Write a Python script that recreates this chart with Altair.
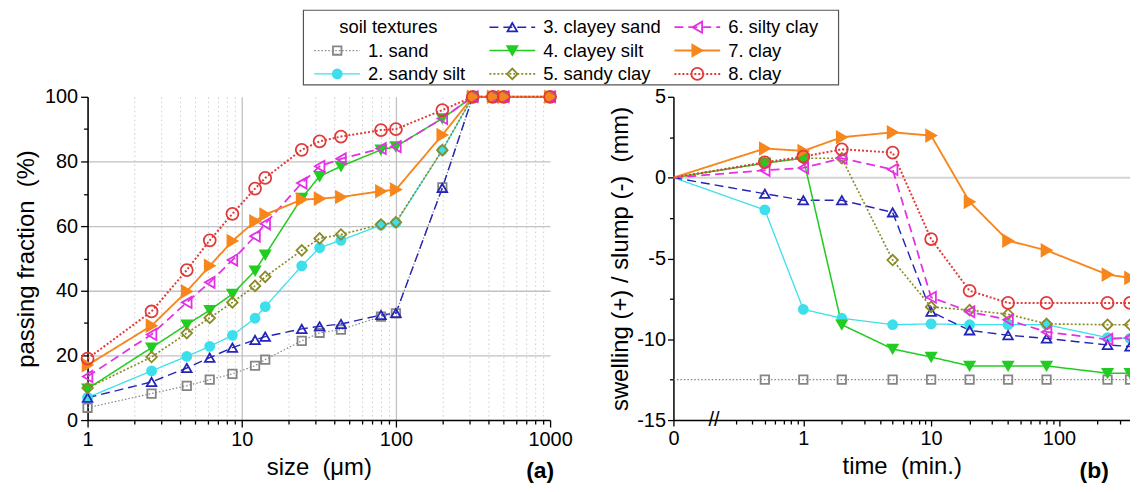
import altair as alt
import numpy as np
import pandas as pd

# ---------------- data ----------------
names = ["1. sand", "2. sandy silt", "3. clayey sand", "4. clayey silt",
         "5. sandy clay", "6. silty clay", "7. clay", "8. clay"]
legend_title = "soil textures"
panel_tags = ["(a)", "(b)"]

# (a) grain-size distribution
sizes = [1, 2.6, 4.4, 6.2, 8.7, 12.2, 14.2, 24.5, 32, 44, 80, 100, 200, 315, 425, 500, 1000]
pass_sand = [3.8, 8.2, 10.6, 12.5, 14.3, 16.8, 18.7, 24.5, 27.0, 28.0, 32.0, 33.0, 72.0, 100, 100, 100, 100]
pass_sandy_silt = [7.0, 15.2, 19.7, 22.8, 26.2, 31.5, 35.1, 47.7, 53.3, 55.6, 60.3, 61.0, 83.5, 100, 100, 100, 100]
pass_clayey_sand = [6.9, 11.8, 16.1, 19.3, 22.4, 24.8, 25.8, 28.2, 29.0, 29.7, 32.5, 33.1, 71.8, 100, 100, 100, 100]
pass_clayey_silt = [9.7, 22.4, 29.5, 34.0, 39.0, 46.2, 51.1, 68.7, 75.4, 78.5, 83.6, 84.6, 93.3, 100, 100, 100, 100]
pass_sandy_clay = [9.9, 19.5, 26.9, 31.6, 36.4, 41.5, 44.3, 52.5, 56.2, 57.4, 60.5, 61.2, 83.5, 100, 100, 100, 100]
pass_silty_clay = [13.5, 26.5, 36.4, 42.6, 49.5, 56.9, 60.7, 73.3, 78.5, 80.8, 84.0, 84.6, 93.3, 100, 100, 100, 100]
pass_clay7 = [17.0, 29.2, 39.8, 47.7, 55.4, 61.5, 63.6, 68.2, 68.5, 69.0, 70.8, 71.3, 88.2, 100, 100, 100, 100]
pass_clay8 = [19.0, 33.6, 46.4, 55.6, 63.8, 71.6, 74.9, 83.6, 86.2, 87.7, 89.7, 90.0, 95.9, 100, 100, 100, 100]

# (b) swelling / slump over time
times = [0, 0.5, 1, 2, 5, 10, 20, 40, 80, 240, 360]
sw_sand = [-12.5, -12.5, -12.5, -12.5, -12.5, -12.5, -12.5, -12.5, -12.5, -12.5, -12.5]
sw_sandy_silt = [0, -2.0, -8.15, -8.7, -9.1, -9.05, -9.1, -9.1, -9.1, -9.9, -9.95]
sw_clayey_sand = [0, -1.0, -1.4, -1.4, -2.15, -8.3, -9.45, -9.75, -9.95, -10.35, -10.45]
sw_clayey_silt = [0, 0.9, 1.2, -9.1, -10.6, -11.1, -11.65, -11.65, -11.65, -12.1, -12.1]
sw_sandy_clay = [0, 0.9, 1.2, 1.2, -5.1, -8.0, -8.2, -8.45, -9.05, -9.1, -9.1]
sw_silty_clay = [0, 0.45, 0.6, 1.2, 0.5, -7.4, -8.3, -8.8, -9.55, -10.0, -9.9]
sw_clay7 = [0, 1.8, 1.65, 2.5, 2.8, 2.6, -1.5, -3.9, -4.5, -6.0, -6.2]
sw_clay8 = [0, 0.95, 1.3, 1.75, 1.55, -3.8, -7.0, -7.75, -7.75, -7.75, -7.75]

# axis tick values
left_x_ticks = [1, 2, 3, 4, 5, 6, 7, 8, 9, 10, 20, 30, 40, 50, 60, 70, 80, 90,
                100, 200, 300, 400, 500, 600, 700, 800, 900, 1000]
left_y_ticks = [0, 10, 20, 30, 40, 50, 60, 70, 80, 90, 100]
right_minor_times = [0.3, 0.4, 0.5, 0.6, 0.7, 0.8, 0.9, 2, 3, 4, 5, 6, 7, 8, 9,
                     20, 30, 40, 50, 60, 70, 80, 90, 200, 300]
right_y_ticks = [-15, -12.5, -10, -7.5, -5, -2.5, 0, 2.5, 5]
break_at = [0.2]

# ---------------- styles ----------------
FONT = "Liberation Sans"
colors = ["#858585", "#3cdfeb", "#2424b8", "#22cc22", "#8a8a26", "#e431e4", "#f7861c", "#e03a3a"]
fills = ["transparent", "#3cdfeb", "transparent", "#22cc22", "transparent",
         "transparent", "#f7861c", "transparent"]
shapes = ["square", "circle", "triangle-up", "triangle-down", "diamond",
          "triangle-left", "triangle-right", "circle"]
dashes = [[1.5, 2], [1, 0], [9, 5], [1, 0], [2, 2], [9, 5], [1, 0], [2, 2]]
widths = [1.2, 2.0, 2.0, 2.0, 1.8, 2.0, 2.2, 1.8]
msizes = [72, 144, 180, 180, 144, 180, 180, 144]

S_STROKE = alt.Scale(domain=names, range=colors)
S_FILL = alt.Scale(domain=names, range=fills)
S_SHAPE = alt.Scale(domain=names, range=shapes)
S_DASH = alt.Scale(domain=names, range=dashes)
S_WIDTH = alt.Scale(domain=names, range=widths)
S_SIZE = alt.Scale(domain=names, range=msizes)


def line_style():
    return dict(
        stroke=alt.Stroke("series:N", scale=S_STROKE, legend=None),
        strokeDash=alt.StrokeDash("series:N", scale=S_DASH, legend=None),
        strokeWidth=alt.StrokeWidth("series:N", scale=S_WIDTH, legend=None),
    )


def point_style():
    return dict(
        stroke=alt.Stroke("series:N", scale=S_STROKE, legend=None),
        fill=alt.Fill("series:N", scale=S_FILL, legend=None),
        shape=alt.Shape("series:N", scale=S_SHAPE, legend=None),
        size=alt.Size("series:N", scale=S_SIZE, legend=None),
    )


# ---------------- tables ----------------
left_lists = [pass_sand, pass_sandy_silt, pass_clayey_sand, pass_clayey_silt,
              pass_sandy_clay, pass_silty_clay, pass_clay7, pass_clay8]
right_lists = [sw_sand, sw_sandy_silt, sw_clayey_sand, sw_clayey_silt,
               sw_sandy_clay, sw_silty_clay, sw_clay7, sw_clay8]

left_df = pd.DataFrame([
    {"series": n, "size": s, "passing": v}
    for n, vals in zip(names, left_lists) for s, v in zip(sizes, vals)
])
right_df = pd.DataFrame([
    {"series": n, "time": t, "swell": v}
    for n, vals in zip(names, right_lists) for t, v in zip(times, vals)
])

# ---------------- left panel ----------------
W_L, W_R, H = 465, 459, 325

major_left_test = "indexof([1, 10, 100, 1000], datum.value) >= 0"
xl = alt.X(
    "size:Q",
    scale=alt.Scale(type="log", domain=[1, 1000], nice=False),
    axis=alt.Axis(
        values=left_x_ticks,
        labelExpr=f"{major_left_test} ? '' + datum.value : ''",
        title="size\u00a0 (\u03bcm)",
        grid=True,
        gridDash={"condition": {"test": major_left_test, "value": [1, 0]}, "value": [1.5, 3]},
        gridColor={"condition": {"test": major_left_test, "value": "#c2c2c2"}, "value": "#cdcdcd"},
        gridWidth={"condition": {"test": major_left_test, "value": 1.3}, "value": 1},
        gridOpacity={"condition": {"test": "datum.value >= 1000", "value": 0}, "value": 1},
        tickSize={"condition": {"test": major_left_test, "value": 7}, "value": 4},
        labelPadding=3, titlePadding=6,
    ),
)
major_ly = "datum.value % 20 == 0"
yl = alt.Y(
    "passing:Q",
    scale=alt.Scale(domain=[0, 100], nice=False),
    axis=alt.Axis(
        values=left_y_ticks,
        labelExpr=f"{major_ly} ? '' + datum.value : ''",
        title="passing fraction\u00a0 (%)",
        grid=True, gridColor="#c2c2c2", gridWidth=1.3,
        gridOpacity={"condition": {"test": "datum.value % 20 == 0 && datum.value > 0 && datum.value < 100",
                                   "value": 1}, "value": 0},
        tickSize={"condition": {"test": major_ly, "value": 7}, "value": 4},
        labelPadding=3, titlePadding=6,
    ),
)

left_base = alt.Chart(left_df)
left_lines = left_base.mark_line().encode(x=xl, y=yl, **line_style())
left_points = left_base.mark_point(filled=False, opacity=1, strokeWidth=1.8).encode(
    x=xl, y=yl, **point_style())
tag_a = alt.Chart(pd.DataFrame({"tag": [panel_tags[0]]})).mark_text(
    font=FONT, fontSize=23, fontWeight="bold", align="center", baseline="middle"
).encode(text="tag:N", x=alt.value(455), y=alt.value(376))

left_data = alt.layer(left_lines, left_points, tag_a)

# legend (placed above the left panel)
leg_df = pd.DataFrame({"series": [legend_title] + names, "slot": list(range(len(names) + 1))})
leg_base = alt.Chart(leg_df).transform_calculate(
    col="floor(datum.slot / 3)", row="datum.slot % 3")
lx = alt.X("col:Q", scale=alt.Scale(domain=[0, 1, 2], range=[251, 427, 613]), axis=None)
ly = alt.Y("row:Q", scale=alt.Scale(domain=[0, 2], range=[-70, -23]), axis=None)
entries = leg_base.transform_filter("datum.slot > 0")
leg_lines = entries.mark_point(shape="M-1,0L1,0", size=2116, filled=False, opacity=1,
                               fill="transparent").encode(x=lx, y=ly, **line_style())
leg_marks = entries.mark_point(filled=False, opacity=1, strokeWidth=1.8).encode(
    x=lx, y=ly, **point_style())
leg_text = entries.mark_text(font=FONT, fontSize=18.5, align="left", baseline="middle",
                             dx=31, color="black").encode(x=lx, y=ly, text="series:N")
leg_title = leg_base.transform_filter("datum.slot == 0").mark_text(
    font=FONT, fontSize=18.5, align="left", baseline="middle", dx=2, color="black"
).encode(x=lx, y=ly, text="series:N")
leg_box = alt.Chart(pd.DataFrame({"box": [0]})).mark_rect(
    fill="transparent", stroke="#555555", strokeWidth=1.2
).encode(x=alt.value(217), x2=alt.value(755), y=alt.value(-87), y2=alt.value(-12))
legend = alt.layer(leg_box, leg_lines, leg_marks, leg_text, leg_title)

left_panel = alt.layer(left_data, legend).resolve_scale(x="independent", y="independent").properties(
    width=W_L, height=H)

# ---------------- right panel ----------------
T0 = -1.016
major_r_test = "datum.value < -1 || datum.value == 0 || datum.value == 1 || datum.value == 2"
right_x_values = [T0, 0, 1, 2] + [float(np.log10(v)) for v in right_minor_times]
xr = alt.X(
    "xpos:Q",
    scale=alt.Scale(domain=[T0, 2.556], nice=False, zero=False),
    axis=alt.Axis(
        values=right_x_values,
        labelExpr="datum.value < -1 ? '0' : (datum.value == 0 ? '1' : (datum.value == 1 ? '10' : (datum.value == 2 ? '100' : '')))",
        title="time\u00a0 (min.)",
        grid=False,
        tickSize={"condition": {"test": major_r_test, "value": 6}, "value": 4},
        labelPadding=3, titlePadding=6,
    ),
)
major_ry = "datum.value % 5 == 0"
yr = alt.Y(
    "swell:Q",
    scale=alt.Scale(domain=[-15, 5], nice=False, zero=False),
    axis=alt.Axis(
        values=right_y_ticks,
        labelExpr=f"{major_ry} ? '' + datum.value : ''",
        title="swelling (+) / slump (-)\u00a0 (mm)",
        grid=True, gridColor="#d4d4d4", gridWidth=2,
        gridOpacity={"condition": {"test": "datum.value == 0", "value": 1}, "value": 0},
        tickSize={"condition": {"test": major_ry, "value": 6}, "value": 4},
        labelPadding=2, titlePadding=4,
    ),
)

right_base = alt.Chart(right_df).transform_calculate(
    xpos=f"datum.time > 0 ? log(datum.time) / LN10 : {T0}")
right_lines = right_base.mark_line(clip=True).encode(x=xr, y=yr, **line_style())
right_points = right_base.transform_filter("datum.time > 0").mark_point(
    filled=False, opacity=1, strokeWidth=1.8, clip=True).encode(x=xr, y=yr, **point_style())
brk = alt.Chart(pd.DataFrame({"t": break_at})).transform_calculate(
    xpos="log(datum.t) / LN10", mark="'//'").mark_text(
    font=FONT, fontSize=20, align="center", baseline="middle", color="black"
).encode(x=xr, y=alt.value(H), text="mark:N")
tag_b = alt.Chart(pd.DataFrame({"tag": [panel_tags[1]]})).mark_text(
    font=FONT, fontSize=23, fontWeight="bold", align="center", baseline="middle"
).encode(text="tag:N", x=alt.value(423), y=alt.value(376))

right_panel = alt.layer(right_lines, right_points, brk, tag_b).properties(width=W_R, height=H)

chart = alt.hconcat(left_panel, right_panel, spacing=124, bounds="flush").properties(
    padding={"left": 6, "top": 0, "right": 0, "bottom": 0}
).configure_view(strokeWidth=0).configure_axis(
    domainColor="black", domainWidth=1.5, tickColor="black", tickWidth=1.3,
    labelFont=FONT, labelFontSize=20, labelColor="black",
    titleFont=FONT, titleFontSize=24, titleFontWeight="normal", titleColor="black",
    labelFlush=False, labelOverlap=False,
)

chart.save("out.html", embed_options={"renderer": "svg", "actions": False})
